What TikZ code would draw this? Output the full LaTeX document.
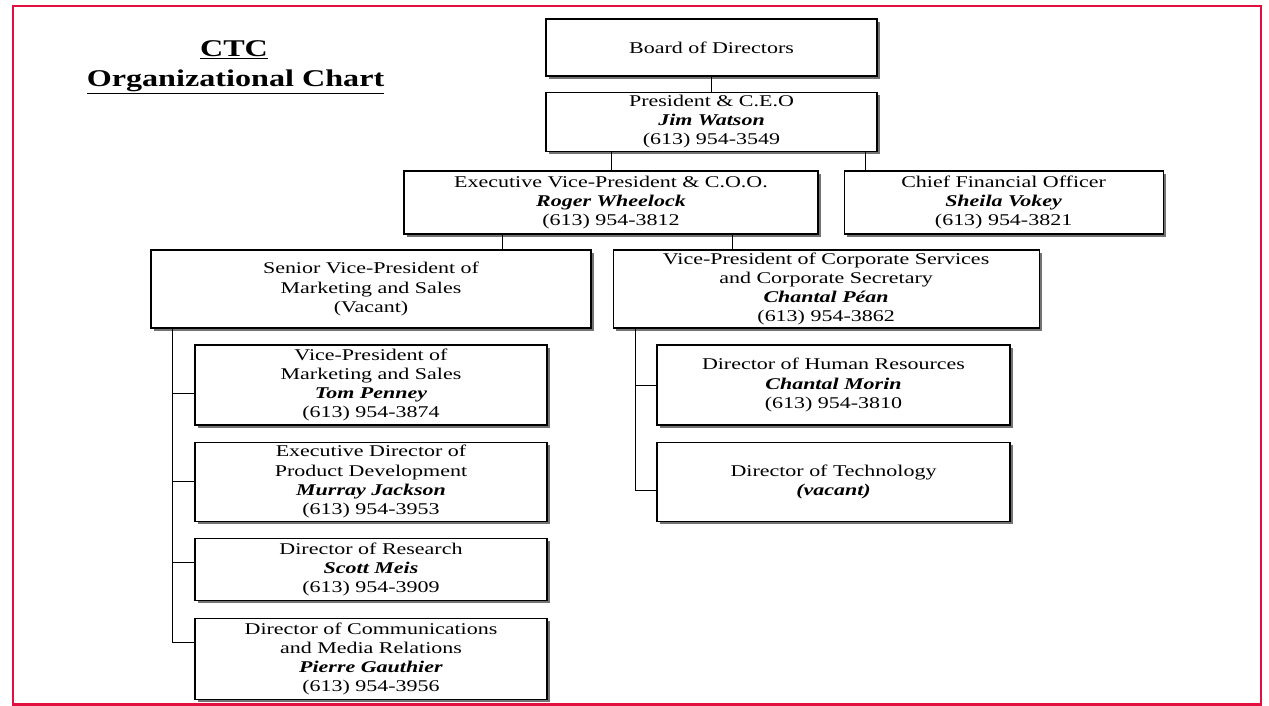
\documentclass[tikz,border=0pt]{standalone}
\usepackage{fontspec}
\setmainfont{Liberation Serif}[FakeStretch=1.34]
\usetikzlibrary{positioning,shadows}
\definecolor{ctcred}{HTML}{E2103F}

\begin{document}
\begin{tikzpicture}[x=1pt, y=-1pt,
  box/.style={draw, line width=1.1pt, fill=white, align=center,
    inner xsep=2pt, inner ysep=0pt, font=\fontsize{16.4}{19.2}\selectfont,
    general shadow={shadow xshift=3pt, shadow yshift=-3pt, fill=black!55}},
  title/.style={anchor=base, font=\fontsize{24}{28}\selectfont\bfseries},
  link/.style={line width=1pt},
]
  \useasboundingbox (0,0) rectangle (1269,706);
  \draw[ctcred, line width=2.5pt] (13,6) rectangle (1261,704.5);

  \node[title] (t1) at (234,57) {\underline{CTC}};
  \node[title] (t2) at (235.5,87) {\underline{Organizational Chart}};

  \node[box, minimum width=331pt, minimum height=57pt] (board) at (711.5,47.5)
    {Board of Directors};
  \node[box, minimum width=331pt, minimum height=59pt, below=15pt of board] (pres)
    {President \& C.E.O\\\textbf{\textit{Jim Watson}}\\(613) 954-3549};
  \node[box, minimum width=414pt, minimum height=63pt] (evp) at (611,202.5)
    {Executive Vice-President \& C.O.O.\\\textbf{\textit{Roger Wheelock}}\\(613) 954-3812};
  \node[box, minimum width=319pt, minimum height=63pt, right=25pt of evp] (cfo)
    {Chief Financial Officer\\\textbf{\textit{Sheila Vokey}}\\(613) 954-3821};
  \node[box, minimum width=440pt, minimum height=78pt] (svp) at (371,289)
    {Senior Vice-President of\\Marketing and Sales\\(Vacant)};
  \node[box, minimum width=426pt, minimum height=78pt, right=21pt of svp] (vpcs)
    {Vice-President of Corporate Services\\and Corporate Secretary\\\textbf{\textit{Chantal Péan}}\\(613) 954-3862};

  % marketing and sales
  \node[box, minimum width=352pt, minimum height=80pt] (vpms) at (371,385)
    {Vice-President of\\Marketing and Sales\\\textbf{\textit{Tom Penney}}\\(613) 954-3874};
  \node[box, minimum width=352pt, minimum height=79pt, below=16pt of vpms] (edpd)
    {Executive Director of\\Product Development\\\textbf{\textit{Murray Jackson}}\\(613) 954-3953};
  \node[box, minimum width=352pt, minimum height=62pt, below=16pt of edpd] (dres)
    {Director of Research\\\textbf{\textit{Scott Meis}}\\(613) 954-3909};
  \node[box, minimum width=352pt, minimum height=81pt, below=17pt of dres] (dcom)
    {Director of Communications\\and Media Relations\\\textbf{\textit{Pierre Gauthier}}\\(613) 954-3956};

  % corporate services
  \node[box, minimum width=353pt, minimum height=80pt] (dhr) at (833.5,385)
    {Director of Human Resources\\\textbf{\textit{Chantal Morin}}\\(613) 954-3810};
  \node[box, minimum width=353pt, minimum height=79pt, below=16pt of dhr] (dtec)
    {Director of Technology\\\textbf{\textit{(vacant)}}};

  \coordinate (pc) at ([xshift=-12pt]pres.south east);
  \coordinate (ea) at ([xshift=99pt]evp.south west);
  \coordinate (eb) at ([xshift=329pt]evp.south west);
  \coordinate (st) at ([xshift=22pt]svp.south west);
  \coordinate (vt) at ([xshift=23pt]vpcs.south west);

  \draw[link] (board) -- (pres);
  \draw[link] (evp.north |- pres.south) -- (evp.north);
  \draw[link] (pc) -- (pc |- cfo.north);
  \draw[link] (ea) -- (ea |- svp.north);
  \draw[link] (eb) -- (eb |- vpcs.north);
  \draw[link] ([yshift=-8pt]vpms.west) -| (st);
  \draw[link] (edpd.west) -| (st);
  \draw[link] ([yshift=7pt]dres.west) -| (st);
  \draw[link] ([yshift=16.5pt]dcom.west) -| (st);
  \draw[link] (dhr.west) -| (vt);
  \draw[link] ([yshift=-8.5pt]dtec.west) -| (vt);
\end{tikzpicture}
\end{document}
